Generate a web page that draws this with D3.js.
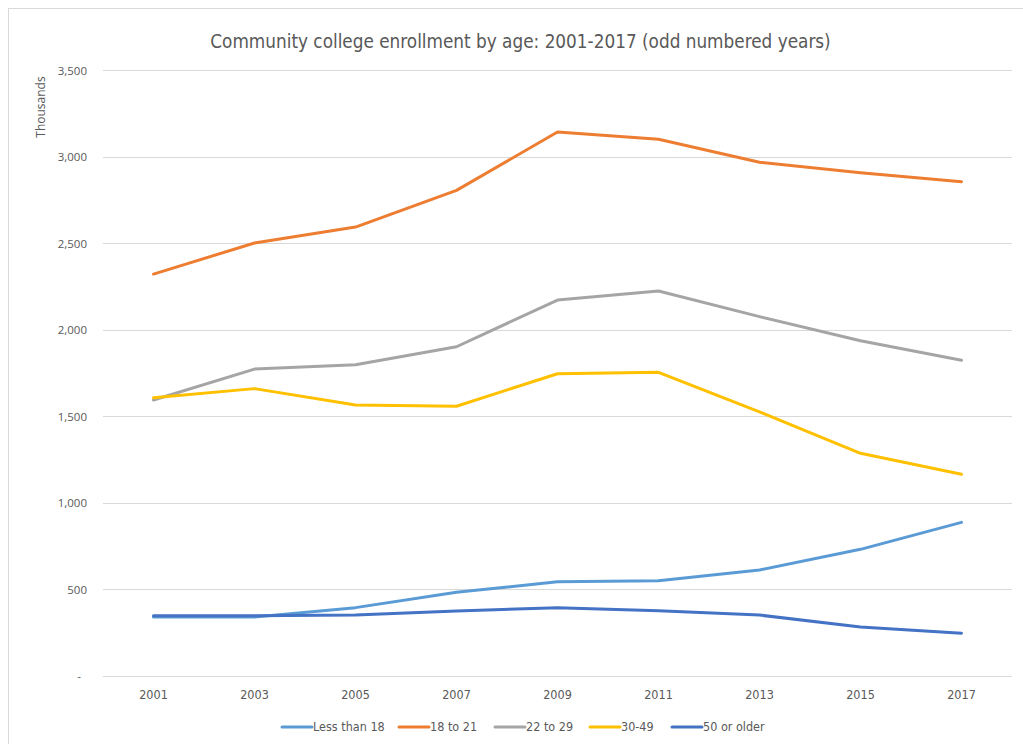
<!DOCTYPE html>
<html>
<head>
<meta charset="utf-8">
<script src="https://cdn.jsdelivr.net/npm/d3@7"></script>
<style>
  html, body { margin: 0; padding: 0; background: #fff; }
  svg { display: block; }
</style>
</head>
<body>
<svg id="chart" width="1023" height="744"></svg>
<script>
const years = ["2001","2003","2005","2007","2009","2011","2013","2015","2017"];
const seriesNames = ["Less than 18","18 to 21","22 to 29","30-49","50 or older"];
const lessThan18 = [340, 340, 394, 483, 543, 550, 612, 731, 887];
const age18to21  = [2322, 2502, 2594, 2806, 3143, 3101, 2969, 2908, 2856];
const age22to29  = [1594, 1773, 1798, 1902, 2172, 2224, 2076, 1937, 1824];
const age30to49  = [1607, 1660, 1565, 1558, 1746, 1754, 1526, 1286, 1165];
const age50plus  = [347, 347, 351, 375, 394, 376, 351, 282, 246];
const yTicks = [0, 500, 1000, 1500, 2000, 2500, 3000, 3500];
const colors = ["#5B9BD5", "#ED7D31", "#A5A5A5", "#FFC000", "#4472C4"];
const title = "Community college enrollment by age: 2001-2017 (odd numbered years)";
const yTitle = "Thousands";

const seriesValues = [lessThan18, age18to21, age22to29, age30to49, age50plus];
const series = seriesNames.map((name, i) => ({ name, color: colors[i], values: seriesValues[i] }));

const svg = d3.select("#chart");
const narrow = "'Liberation Sans Narrow', 'DejaVu Sans Condensed', 'Open Sans', sans-serif";
const sans = "'Open Sans', 'Noto Sans', sans-serif";
const textColor = "#595959";

// chart area border
svg.append("rect")
  .attr("x", 8.5).attr("y", 8.5)
  .attr("width", 1040).attr("height", 760)
  .attr("fill", "#fff").attr("stroke", "#d9d9d9").attr("stroke-width", 1);

const x = d3.scaleBand().domain(years).range([103, 1012]).padding(0);
const y = d3.scaleLinear().domain([0, 3500]).range([675.8, 70.3]);

// gridlines
svg.append("g")
  .selectAll("line").data(yTicks).join("line")
  .attr("x1", 103).attr("x2", 1012)
  .attr("y1", d => Math.round(y(d)) + 0.5).attr("y2", d => Math.round(y(d)) + 0.5)
  .attr("stroke", "#d9d9d9").attr("stroke-width", 1);

// y axis labels
const yAxis = d3.axisLeft(y).tickValues(yTicks)
  .tickFormat(d => d === 0 ? "-" : d3.format(",")(d))
  .tickSize(0).tickPadding(0);
const gy = svg.append("g").attr("transform", "translate(87,0)").call(yAxis);
gy.select(".domain").remove();
gy.selectAll("text")
  .attr("fill", textColor)
  .style("font-family", sans).style("font-size", "11.5px")
  .attr("dy", "0.35em")
  .attr("dx", d => d === 0 ? -6 : 0);

// y axis title
svg.append("text")
  .attr("transform", "translate(45,107) rotate(-90)")
  .attr("text-anchor", "middle")
  .attr("fill", textColor)
  .style("font-family", sans).style("font-size", "12px")
  .text(yTitle);

// x axis labels
const xAxis = d3.axisBottom(x).tickSize(0).tickPadding(0);
const gx = svg.append("g").attr("transform", "translate(0,690)").call(xAxis);
gx.select(".domain").remove();
gx.selectAll("text")
  .attr("fill", textColor)
  .style("font-family", narrow).style("font-size", "12.5px");

// title
const t = svg.append("text")
  .attr("x", 520.5).attr("y", 48)
  .attr("text-anchor", "middle")
  .attr("fill", textColor)
  .style("font-family", narrow).style("font-size", "19px")
  .text(title);
{
  const w = t.node().getComputedTextLength();
  const target = 621;
  t.style("font-size", (19 * target / w).toFixed(2) + "px");
}

// lines
const line = d3.line()
  .x((d, i) => x(years[i]) + x.bandwidth() / 2)
  .y(d => y(d));

svg.append("g")
  .selectAll("path").data(series).join("path")
  .attr("d", s => line(s.values))
  .attr("fill", "none")
  .attr("stroke", s => s.color)
  .attr("stroke-width", 3)
  .attr("stroke-linejoin", "round")
  .attr("stroke-linecap", "round");

// legend
const legendStarts = [282, 399, 495, 590, 672];
const lg = svg.append("g");
series.forEach((s, i) => {
  const g = lg.append("g").attr("transform", `translate(${legendStarts[i]},727)`);
  g.append("line").attr("x1", 0).attr("x2", 30).attr("y1", 0).attr("y2", 0)
    .attr("stroke", s.color).attr("stroke-width", 3).attr("stroke-linecap", "round");
  g.append("text").attr("x", 31).attr("y", 0).attr("dy", "0.35em")
    .attr("fill", textColor)
    .style("font-family", narrow).style("font-size", "12.5px")
    .text(s.name);
});
</script>
</body>
</html>
